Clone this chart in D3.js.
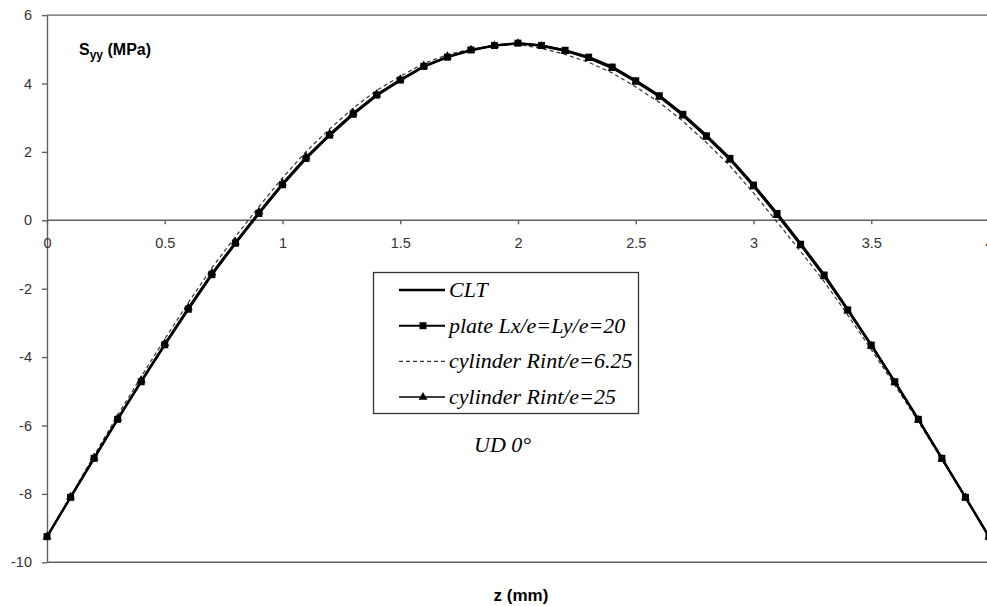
<!DOCTYPE html>
<html>
<head>
<meta charset="utf-8">
<script src="https://cdn.jsdelivr.net/npm/d3@7/dist/d3.min.js"></script>
<style>
  body { margin: 0; background: #fff; }
  .axis text { font-family: Arial, "Liberation Sans", sans-serif; font-size: 14.5px; fill: #333; }
  .axis path, .axis line { stroke: #606060; stroke-width: 1.4; }
  .legend text, .note { font-family: "Liberation Serif", "Times New Roman", serif; font-style: italic; font-size: 22px; fill: #000; }
  .label { font-family: Arial, "Liberation Sans", sans-serif; font-weight: bold; fill: #000; }
</style>
</head>
<body>
<svg id="chart" width="987" height="606"></svg>
<script>
// z (mm) positions, one every 0.1
var zValues = [0, 0.1, 0.2, 0.3, 0.4, 0.5, 0.6, 0.7, 0.8, 0.9, 1.0,
  1.1, 1.2, 1.3, 1.4, 1.5, 1.6, 1.7, 1.8, 1.9, 2.0,
  2.1, 2.2, 2.3, 2.4, 2.5, 2.6, 2.7, 2.8, 2.9, 3.0,
  3.1, 3.2, 3.3, 3.4, 3.5, 3.6, 3.7, 3.8, 3.9, 4.0];

// Syy (MPa)
var cltValues = [-9.25, -8.10, -6.96, -5.82, -4.72, -3.64, -2.60, -1.59, -0.68, 0.20, 1.04,
  1.81, 2.48, 3.10, 3.65, 4.09, 4.49, 4.77, 4.97, 5.11, 5.18,
  5.11, 4.97, 4.77, 4.49, 4.09, 3.65, 3.10, 2.48, 1.81, 1.04,
  0.20, -0.68, -1.59, -2.60, -3.64, -4.72, -5.82, -6.96, -8.10, -9.25];

var plateValues = [-9.25, -8.10, -6.96, -5.82, -4.72, -3.64, -2.60, -1.59, -0.67, 0.20, 1.04,
  1.81, 2.49, 3.10, 3.66, 4.10, 4.50, 4.77, 4.98, 5.11, 5.18,
  5.11, 4.97, 4.77, 4.48, 4.08, 3.64, 3.10, 2.47, 1.81, 1.03,
  0.20, -0.70, -1.60, -2.62, -3.65, -4.72, -5.82, -6.96, -8.10, -9.25];

var cyl625Values = [-9.25, -8.06, -6.88, -5.70, -4.57, -3.47, -2.41, -1.39, -0.48, 0.40, 1.24,
  2.01, 2.67, 3.28, 3.80, 4.21, 4.59, 4.84, 5.01, 5.11, 5.14,
  5.03, 4.85, 4.62, 4.31, 3.90, 3.45, 2.90, 2.27, 1.59, 0.80,
  -0.05, -0.91, -1.79, -2.77, -3.78, -4.82, -5.89, -7.00, -8.12, -9.25];

var cyl25Values = [-9.25, -8.09, -6.94, -5.79, -4.68, -3.60, -2.55, -1.54, -0.63, 0.25, 1.09,
  1.86, 2.53, 3.14, 3.69, 4.12, 4.52, 4.79, 4.98, 5.11, 5.17,
  5.09, 4.94, 4.73, 4.44, 4.04, 3.60, 3.05, 2.43, 1.76, 0.98,
  0.14, -0.74, -1.65, -2.65, -3.68, -4.75, -5.84, -6.98, -8.11, -9.25];

var xTicks = [0, 0.5, 1, 1.5, 2, 2.5, 3, 3.5, 4];
var yTicks = [-10, -8, -6, -4, -2, 0, 2, 4, 6];

var legendLabels = ["CLT", "plate Lx/e=Ly/e=20", "cylinder Rint/e=6.25", "cylinder Rint/e=25"];

var svg = d3.select("#chart");

var x = d3.scaleLinear().domain([0, 4]).range([47, 989]);
var y = d3.scaleLinear().domain([-10, 6]).range([562.3, 15.1]);

function pts(vals) {
  return zValues.map(function(z, i) { return { z: z, v: vals[i] }; });
}

var line = d3.line()
    .x(function(d) { return x(d.z); })
    .y(function(d) { return y(d.v); });

function drawFrame() {
  svg.append("line")
      .attr("x1", x(0)).attr("x2", 987)
      .attr("y1", y(6)).attr("y2", y(6))
      .attr("stroke", "#606060").attr("stroke-width", 1.4);
  svg.append("line")
      .attr("x1", x(0)).attr("x2", 987)
      .attr("y1", y(-10)).attr("y2", y(-10))
      .attr("stroke", "#606060").attr("stroke-width", 1.4);
}

function drawYAxis() {
  svg.append("g")
      .attr("class", "y axis")
      .attr("transform", "translate(" + x(0) + ",0)")
      .call(d3.axisLeft(y).tickValues(yTicks).tickSize(5).tickSizeOuter(0).tickPadding(10)
        .tickFormat(function(d) { return String(d); }));
}

function drawXAxis() {
  var g = svg.append("g")
      .attr("class", "x axis")
      .attr("transform", "translate(0," + y(0) + ")")
      .call(d3.axisBottom(x).tickValues(xTicks).tickSize(4).tickSizeOuter(0).tickPadding(13)
        .tickFormat(function(d) { return String(d); }));
  g.select(".domain").attr("d", "M" + x(0) + ",0H987");
}

function drawSeries() {
  svg.append("path")
      .datum(pts(cyl625Values))
      .attr("fill", "none")
      .attr("stroke", "#333")
      .attr("stroke-width", 1.2)
      .attr("stroke-dasharray", "4,3")
      .attr("d", line);

  svg.append("path")
      .datum(pts(cyl25Values))
      .attr("fill", "none")
      .attr("stroke", "#000")
      .attr("stroke-width", 1.5)
      .attr("d", line);

  svg.selectAll(".tri")
      .data(pts(cyl25Values))
      .enter().append("path")
      .attr("class", "tri")
      .attr("transform", function(d) { return "translate(" + x(d.z) + "," + y(d.v) + ")"; })
      .attr("d", d3.symbol().type(d3.symbolTriangle).size(34))
      .attr("fill", "#000");

  svg.append("path")
      .datum(pts(plateValues))
      .attr("fill", "none")
      .attr("stroke", "#000")
      .attr("stroke-width", 2)
      .attr("d", line);

  svg.selectAll(".sq")
      .data(pts(plateValues))
      .enter().append("rect")
      .attr("class", "sq")
      .attr("x", function(d) { return x(d.z) - 3.5; })
      .attr("y", function(d) { return y(d.v) - 3.5; })
      .attr("width", 7)
      .attr("height", 7)
      .attr("fill", "#000");

  svg.append("path")
      .datum(pts(cltValues))
      .attr("fill", "none")
      .attr("stroke", "#000")
      .attr("stroke-width", 2.4)
      .attr("d", line);
}

function drawLegend() {
  var lg = svg.append("g").attr("class", "legend");
  lg.append("rect")
      .attr("x", 373.5).attr("y", 272.5)
      .attr("width", 265).attr("height", 141)
      .attr("fill", "#fff").attr("stroke", "#333").attr("stroke-width", 1.3);

  var row = lg.selectAll(".row")
      .data(legendLabels)
      .enter().append("g")
      .attr("class", "row")
      .attr("transform", function(d, i) { return "translate(0," + (290 + i * 35.7) + ")"; });

  row.append("line")
      .attr("x1", 399).attr("x2", 445)
      .attr("y1", 0).attr("y2", 0)
      .attr("stroke", function(d, i) { return i == 2 ? "#333" : "#000"; })
      .attr("stroke-width", function(d, i) { return [2.4, 2, 1.2, 1.5][i]; })
      .attr("stroke-dasharray", function(d, i) { return i == 2 ? "4,3" : null; });

  row.filter(function(d, i) { return i == 1; })
      .append("rect")
      .attr("x", 419.5).attr("y", -3.5).attr("width", 7).attr("height", 7)
      .attr("fill", "#000");

  row.filter(function(d, i) { return i == 3; })
      .append("path")
      .attr("transform", "translate(423,0)")
      .attr("d", d3.symbol().type(d3.symbolTriangle).size(34))
      .attr("fill", "#000");

  row.append("text")
      .attr("x", 449)
      .attr("y", 7)
      .text(function(d) { return d; });
}

function drawLabels() {
  var t = svg.append("text")
      .attr("class", "label")
      .attr("x", 79)
      .attr("y", 55)
      .style("font-size", "16px");
  t.append("tspan").text("S");
  t.append("tspan").attr("dy", 4).style("font-size", "12px").text("yy");
  t.append("tspan").attr("dy", -4).text(" (MPa)");

  svg.append("text")
      .attr("class", "label")
      .attr("x", 521)
      .attr("y", 601)
      .attr("text-anchor", "middle")
      .style("font-size", "17px")
      .text("z (mm)");

  svg.append("text")
      .attr("class", "note")
      .attr("x", 474)
      .attr("y", 452)
      .text("UD 0°");
}

drawFrame();
drawYAxis();
drawXAxis();
drawSeries();
drawLegend();
drawLabels();
</script>
</body>
</html>
